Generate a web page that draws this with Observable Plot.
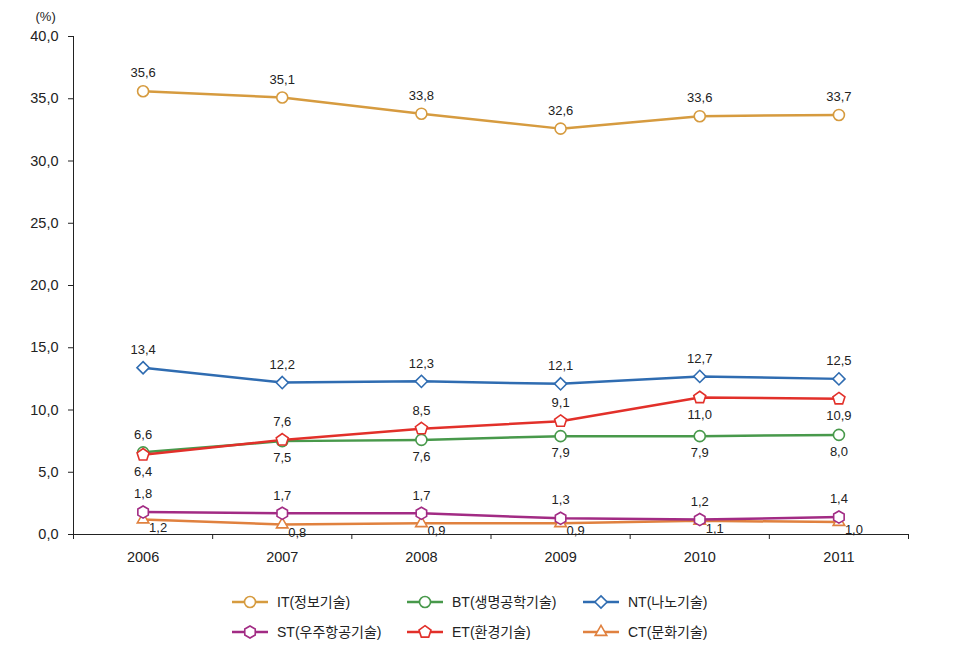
<!DOCTYPE html>
<html>
<head>
<meta charset="utf-8">
<script src="https://cdn.jsdelivr.net/npm/d3@7"></script>
<script src="https://cdn.jsdelivr.net/npm/@observablehq/plot@0.6"></script>
<style>
  html, body { margin: 0; padding: 0; background: #fff; }
  #chart { width: 959px; }
  svg { display: block; }
</style>
</head>
<body>
<div id="chart"></div>
<script>
// ---- data ----
const years = [2006, 2007, 2008, 2009, 2010, 2011];
const seriesNames = ["IT(정보기술)", "BT(생명공학기술)", "NT(나노기술)", "ST(우주항공기술)", "ET(환경기술)", "CT(문화기술)"];
const IT = [35.6, 35.1, 33.8, 32.6, 33.6, 33.7];
const BT = [6.6, 7.5, 7.6, 7.9, 7.9, 8.0];
const NT = [13.4, 12.2, 12.3, 12.1, 12.7, 12.5];
const ST = [1.8, 1.7, 1.7, 1.3, 1.2, 1.4];
const ET = [6.4, 7.6, 8.5, 9.1, 11.0, 10.9];
const CT = [1.2, 0.8, 0.9, 0.9, 1.1, 1.0];
const yTicks = [0, 5, 10, 15, 20, 25, 30, 35, 40];
const colors = ["#D69B3F", "#48994B", "#2F6CB1", "#A22B84", "#E2302A", "#E0813F"];

// ---- custom symbols ----
function polygon(n, areaFactor, rot) {
  return {
    draw(context, size) {
      const r = Math.sqrt(size / areaFactor);
      for (let i = 0; i < n; i++) {
        const a = rot + i * 2 * Math.PI / n;
        const x = r * Math.cos(a), y = r * Math.sin(a);
        if (i === 0) context.moveTo(x, y); else context.lineTo(x, y);
      }
      context.closePath();
    }
  };
}
const hexagon = polygon(6, 3 * Math.sqrt(3) / 2, -Math.PI / 2);
const pentagon = polygon(5, 2.5 * Math.sin(2 * Math.PI / 5), -Math.PI / 2);
const symbols = [d3.symbolCircle, d3.symbolCircle, d3.symbolDiamond2, hexagon, pentagon, d3.symbolTriangle2];

const valueArrays = [IT, BT, NT, ST, ET, CT];
const data = seriesNames.flatMap((s, i) => years.map((y, j) => ({series: s, key: s.slice(0, 2), idx: j, year: y, value: valueArrays[i][j]})));

const fmt = v => v.toFixed(1).replace(".", ",");

// label placement rules
const above = [], below = [], ctLabels = [];
for (const d of data) {
  const j = d.idx;
  if (d.key === "CT") ctLabels.push(d);
  else if (d.key === "BT") (BT[j] > ET[j] ? above : below).push(d);
  else if (d.key === "ET") ((ET[j] < BT[j] || NT[j] - ET[j] < 2) ? below : above).push(d);
  else above.push(d);
}

const boundaries = [...years.map(y => y - 0.5), years[years.length - 1] + 0.5];
const drawOrder = ["IT", "NT", "CT", "ST", "BT", "ET"];
const ordered = drawOrder.flatMap(k => data.filter(d => d.key === k));

const chart = Plot.plot({
  width: 959,
  height: 580,
  marginLeft: 73,
  marginRight: 51,
  marginTop: 36,
  marginBottom: 46,
  x: {type: "linear", domain: [years[0] - 0.5, years[years.length - 1] + 0.5]},
  y: {domain: [0, 40]},
  color: {domain: seriesNames, range: colors},
  symbol: {domain: seriesNames, range: symbols},
  style: {fontFamily: "'Liberation Sans', 'Noto Sans CJK KR', sans-serif", fontSize: "14px", color: "#222", background: "#fff"},
  marks: [
    Plot.ruleY([0], {stroke: "#222", strokeWidth: 1}),
    Plot.ruleX([years[0] - 0.5], {y1: 0, y2: 40, stroke: "#222", strokeWidth: 1}),
    Plot.axisY({ticks: yTicks, tickSize: 5, tickPadding: 10, tickFormat: fmt, label: null, fontSize: 14.5}),
    Plot.text(["(%)"], {frameAnchor: "top-left", dx: -38, dy: -25, fontSize: 13, fill: "#222"}),
    Plot.axisX({ticks: boundaries, tickSize: 5, tickFormat: () => "", label: null}),
    Plot.axisX({ticks: years, tickSize: 0, tickPadding: 17, tickFormat: d => String(d), label: null, fontSize: 14.5}),
    Plot.line(ordered, {x: "year", y: "value", z: "series", stroke: "series", strokeWidth: 2.5}),
    Plot.dot(ordered, {x: "year", y: "value", symbol: "series", stroke: "series", fill: "white", r: 5.5, strokeWidth: 1.6}),
    Plot.text(above, {x: "year", y: "value", text: d => fmt(d.value), dy: -18, fontSize: 13, fill: "#222"}),
    Plot.text(below, {x: "year", y: "value", text: d => fmt(d.value), dy: 17, fontSize: 13, fill: "#222"}),
    Plot.text(ctLabels, {x: "year", y: "value", text: d => fmt(d.value), dx: 15, dy: 8, fontSize: 13, fill: "#222"})
  ]
});
document.getElementById("chart").appendChild(chart);

// ---- legend ----
const legend = d3.create("svg").attr("width", 959).attr("height", 80)
  .style("font-family", "'Liberation Sans', 'Noto Sans CJK KR', sans-serif");
const colX = [232, 407, 583], rowY = [22, 52];
seriesNames.forEach((name, i) => {
  const g = legend.append("g").attr("transform", `translate(${colX[i % 3]},${rowY[Math.floor(i / 3)]})`);
  g.append("line").attr("x1", 0).attr("x2", 36).attr("stroke", colors[i]).attr("stroke-width", 2.5);
  g.append("path").attr("transform", "translate(18,0)")
    .attr("d", d3.symbol().type(symbols[i]).size(Math.PI * 5.5 * 5.5)())
    .attr("fill", "white").attr("stroke", colors[i]).attr("stroke-width", 1.6);
  g.append("text").attr("x", 45).attr("dy", "0.35em").attr("font-size", 14).attr("fill", "#222").text(name);
});
document.getElementById("chart").appendChild(legend.node());
</script>
</body>
</html>
